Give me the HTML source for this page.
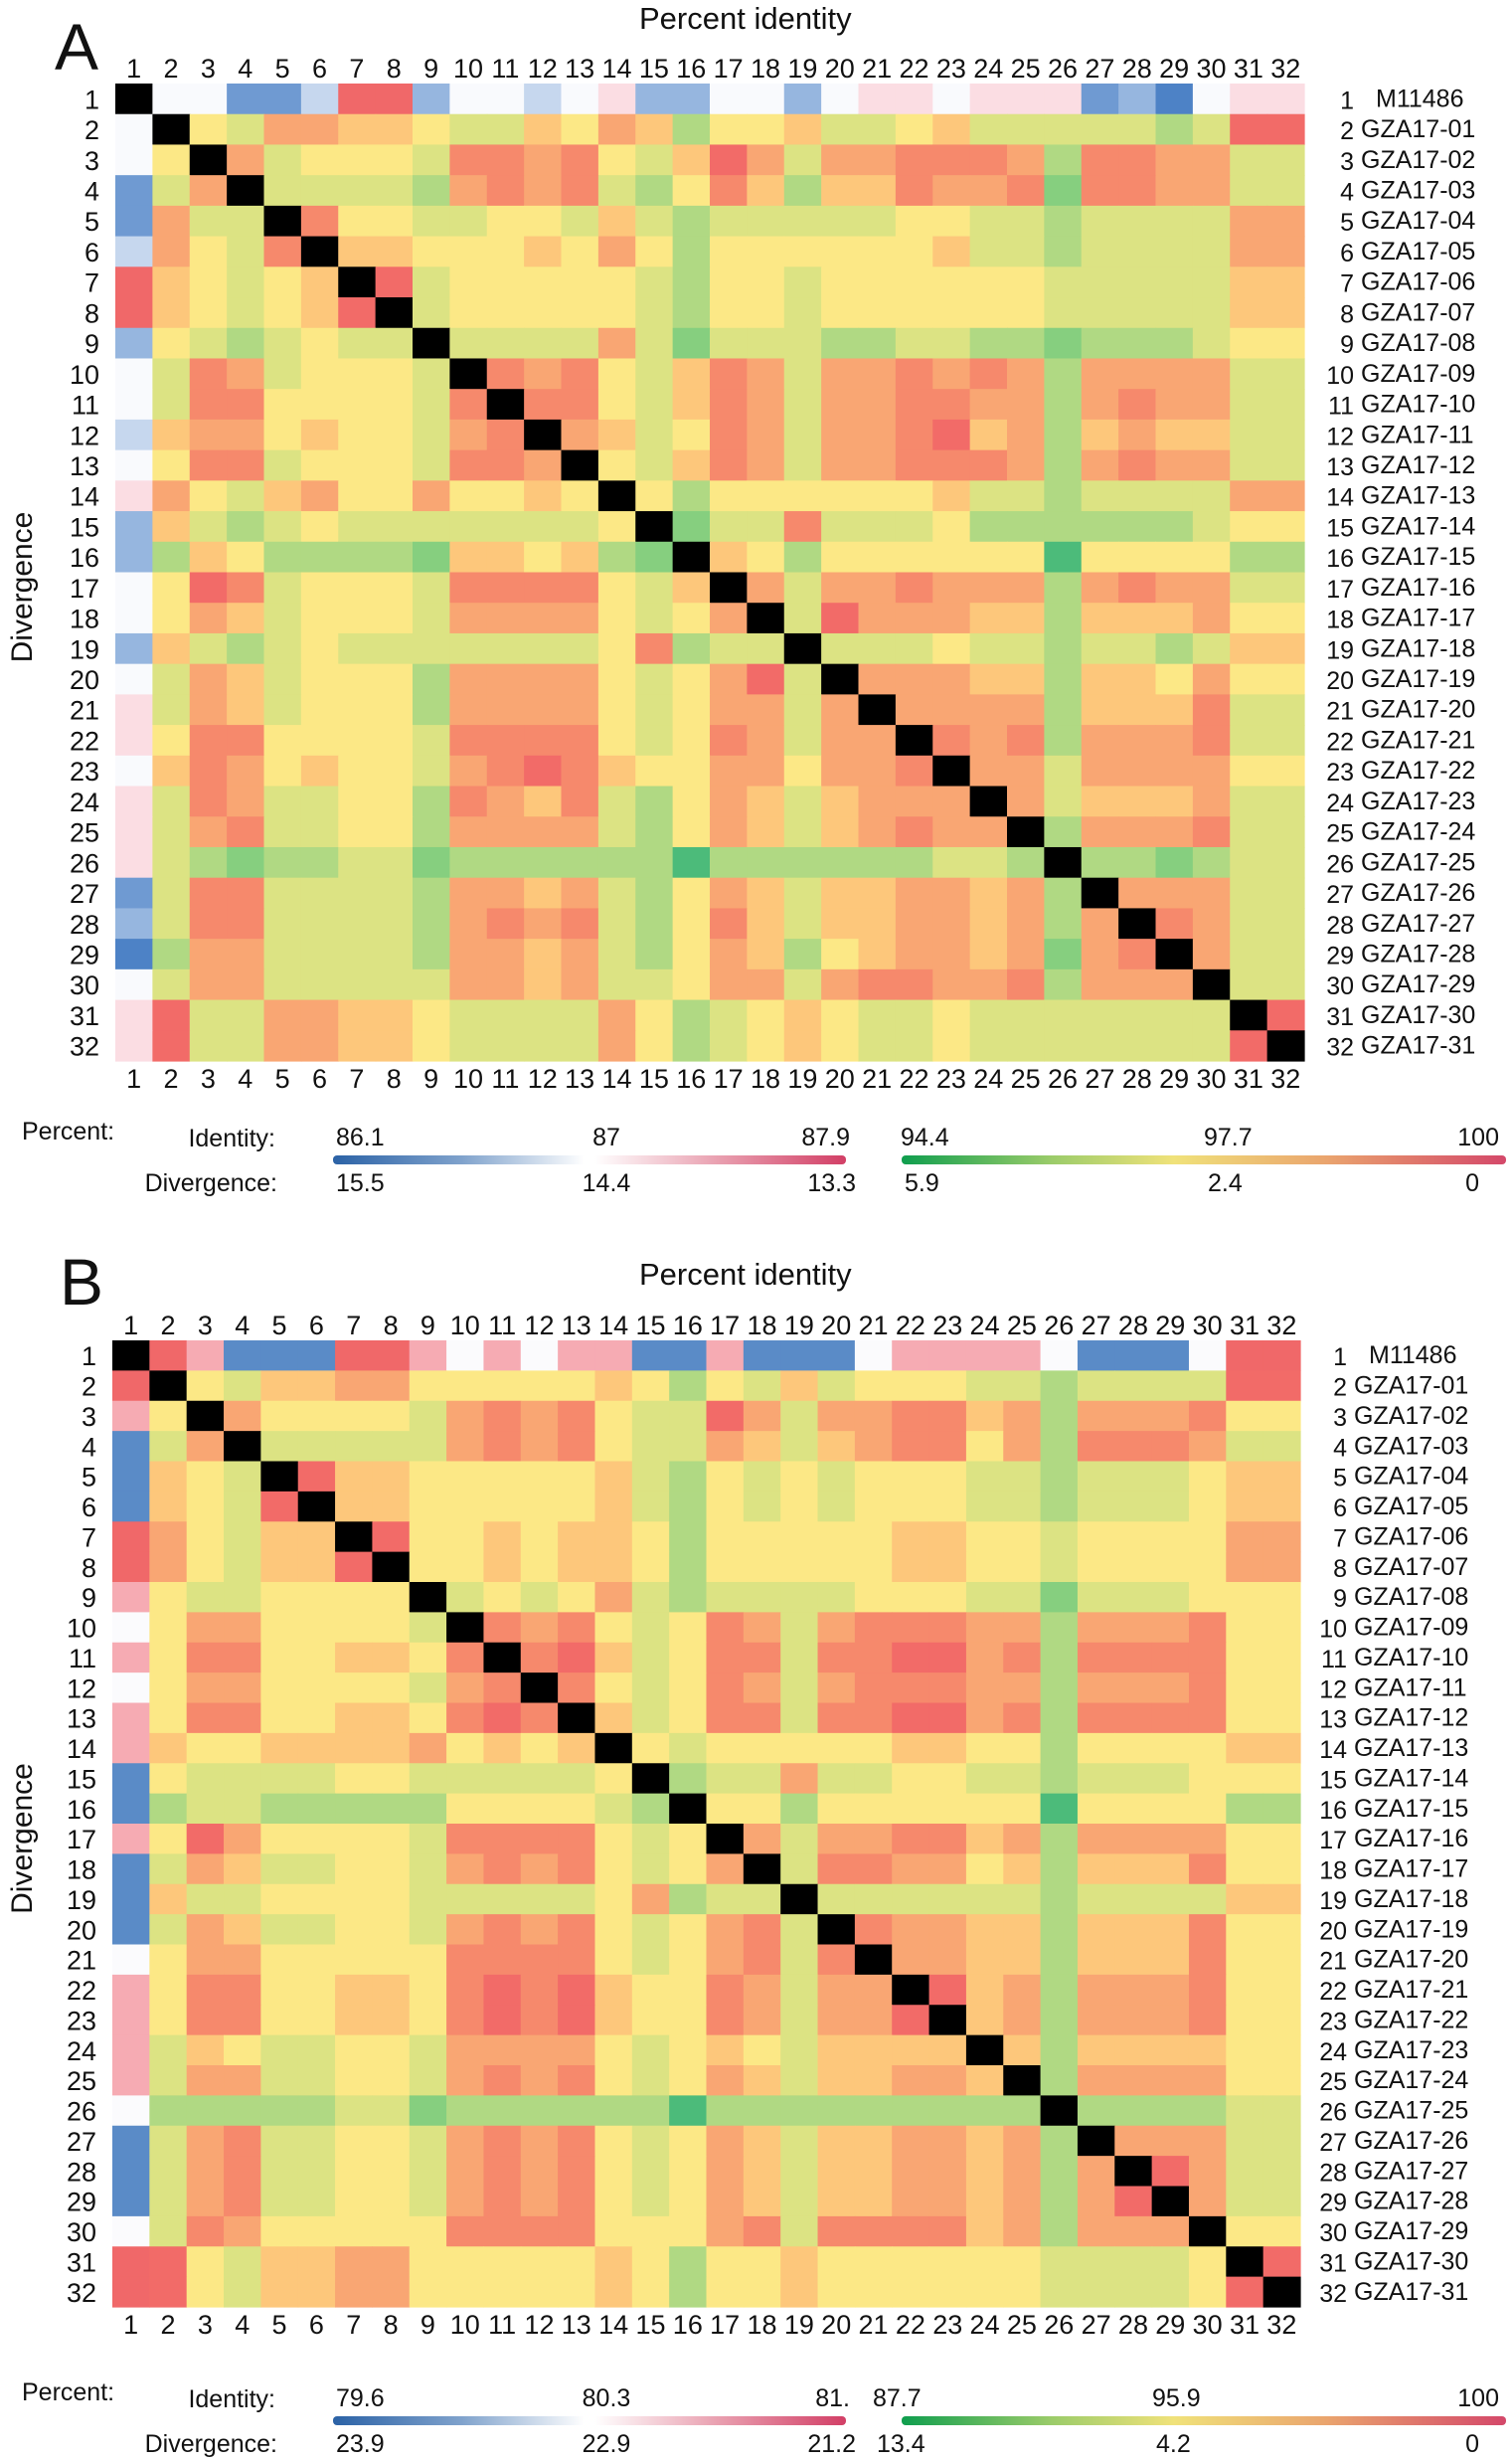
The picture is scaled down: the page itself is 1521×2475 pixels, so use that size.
<!DOCTYPE html>
<html><head><meta charset="utf-8">
<style>
html,body{margin:0;padding:0;background:#fff;}
svg{display:block;}
text{font-family:"Liberation Sans Narrow","Liberation Sans",sans-serif;fill:#111;}
.nm{font-family:"Liberation Sans",sans-serif;}
</style></head>
<body>
<svg id="fig" width="1521" height="2475" viewBox="0 0 1521 2475" xmlns="http://www.w3.org/2000/svg">
<defs>
<linearGradient id="gBlueRed" x1="0" x2="1" y1="0" y2="0">
<stop offset="0" stop-color="#2b62a6"/><stop offset="0.25" stop-color="#7fa2cc"/><stop offset="0.49" stop-color="#ffffff"/><stop offset="0.51" stop-color="#ffffff"/><stop offset="0.75" stop-color="#e9a0b0"/><stop offset="1" stop-color="#d23f66"/>
</linearGradient>
<linearGradient id="gGreenRed" x1="0" x2="1" y1="0" y2="0">
<stop offset="0" stop-color="#0f9e4e"/><stop offset="0.25" stop-color="#9ccc6a"/><stop offset="0.45" stop-color="#f0e27a"/><stop offset="0.7" stop-color="#eaa56e"/><stop offset="1" stop-color="#d4486a"/>
</linearGradient>
</defs>
<g id="layer"></g>
</svg>
<script>
// ---- data ----
const names = ["M11486","GZA17-01","GZA17-02","GZA17-03","GZA17-04","GZA17-05","GZA17-06","GZA17-07","GZA17-08","GZA17-09","GZA17-10","GZA17-11","GZA17-12","GZA17-13","GZA17-14","GZA17-15","GZA17-16","GZA17-17","GZA17-18","GZA17-19","GZA17-20","GZA17-21","GZA17-22","GZA17-23","GZA17-24","GZA17-25","GZA17-26","GZA17-27","GZA17-28","GZA17-29","GZA17-30","GZA17-31"];
// outgroup (M11486 vs 2..32) identity classes
const outA = "wwBBlRRbwwlwpbbwwbwppwpppBbDwpp";
const outB = "RPBBBRRPwPwPPBBPBBBwPPPPwBBBwRR";
// in-group identity levels (0 = lowest/green .. 8 = highest/red), upper triangle rows 2..31
const upperA = ["436655433546524453345333332388","63444377674358636677762776633","3333267673247525576671776633","744334435323333344332333366","55444546424444445332333366","8344444324434444443333355","344444324434444443333355","33336313332233221222344","7674357636676762666633","774357636677662676633","65347636678562565533","4357636677762676633","424444445332333366","13373334222222344","5424444440444422","636676662676633","38666552555644","3334332332355","666552554644","66662555733","7672666733","663666644","63555633","2666733","221233","66633","7633","633","33","8"];
const upperB = ["435566444445424353444332333388","64444367674338636677562666744","3333367674336535677462777633","855444445324343444332333455","55444445324343444332333455","8445455424444455443444466","445455424444455443444466","34346323333444331333444","7674347636777662666744","785347737788672777744","74347636777662666744","5347737788672777744","434444455442444455","23363344332333444","4424444440444422","636677562666644","37766452555744","3333332333355","766552555744","66552555744","8562666744","562666744","52555544","2666644","222233","66633","8633","633","44","8"];
const legendA = {idLow:["86.1","87","87.9"], divLow:["15.5","14.4","13.3"], idHigh:["94.4","97.7","100"], divHigh:["5.9","2.4","0"]};
const legendB = {idLow:["79.6","80.3","81."], divLow:["23.9","22.9","21.2"], idHigh:["87.7","95.9","100"], divHigh:["13.4","4.2","0"]};

// ---- styles ----
const levelColors = ["#4cbb7a","#86cf7f","#b0d983","#dce383","#fce886","#fdc77b","#f9a673","#f6896c","#f26b68"];
const outColorsA = {D:"#4d82c6",B:"#6f9ad2",b:"#96b6df",l:"#c6d7ee",w:"#f9fafd",p:"#fbdde3",R:"#f06869"};
const outColorsB = {B:"#5a8bc7",w:"#fbfbfd",P:"#f6abb3",R:"#f06869"};

const NS = "http://www.w3.org/2000/svg";
const layer = document.getElementById("layer");
function mk(tag, attrs, parent, txt){
  const e = document.createElementNS(NS, tag);
  for (const k in attrs) e.setAttribute(k, attrs[k]);
  if (txt !== undefined) e.textContent = txt;
  (parent||layer).appendChild(e);
  return e;
}

function cellColor(out, upper, oc, i, j){
  if (i === j) return "#000";
  if (i === 0) return oc[out[j-1]];
  if (j === 0) return oc[out[i-1]];
  const a = Math.min(i,j), b = Math.max(i,j);
  const ch = upper[a-1][b-a-1];
  return levelColors[+ch];
}

function panel(cfg){
  const g = mk("g", {});
  
  
  const n = 32;
  const cw = (cfg.x1 - cfg.x0)/n, ch = (cfg.y1 - cfg.y0)/n;
  const xs = k => cfg.x0 + k*cw;
  const ys = k => cfg.y0 + k*ch;
  const hm = mk("g", {}, g);
  
  
  for (let i=0;i<n;i++) for (let j=0;j<n;j++){
    const r = mk("rect", {x:xs(j).toFixed(2), y:ys(i).toFixed(2), width:(cw+0.6).toFixed(2), height:(ch+0.6).toFixed(2), fill:cellColor(cfg.out,cfg.upper,cfg.oc,i,j)}, hm);
    
    
  }
  const L = mk("text", {x:cfg.letterX, y:cfg.letterY, "font-size":66, class:"nm"}, g, cfg.letter);
  
  
  const T = mk("text", {x:cfg.titleX, y:cfg.titleY, "font-size":31, class:"nm"}, g, "Percent identity");
  
  
  const cy = (cfg.y0+cfg.y1)/2 + 15;
  const Y = mk("text", {x:0, y:0, "font-size":30, class:"nm", "text-anchor":"middle", transform:`translate(${32},${cy}) rotate(-90)`}, g, "Divergence");
  
  
  for (let k=0;k<n;k++){
    const cx = xs(k)+cw/2;
    const t1 = mk("text", {x:cx, y:cfg.y0-6, "font-size":27, "text-anchor":"middle"}, g, String(k+1));
    
    
    const t2 = mk("text", {x:cx, y:cfg.y1+27, "font-size":27, "text-anchor":"middle"}, g, String(k+1));
    
    
    const ry = ys(k)+ch/2+10;
    const t3 = mk("text", {x:cfg.x0-16, y:ry, "font-size":27, "text-anchor":"end"}, g, String(k+1));
    
    
    const t4 = mk("text", {x:cfg.numX, y:ry, "font-size":25, "text-anchor":"end", class:"nm"}, g, String(k+1));
    
    
    const t5 = mk("text", {x:cfg.numX+ (k===0?22:7), y:ry-2, "font-size":25, class:"nm"}, g, names[k]);
    
    
  }
  const lg = mk("g", {}, g);
  
  
  const ly = cfg.legY;
  const P = mk("text", {x:22, y:ly-14, "font-size":25}, lg, "Percent:");
  
  
  const I = mk("text", {x:277, y:ly-7, "font-size":25, "text-anchor":"end"}, lg, "Identity:");
  
  
  const D = mk("text", {x:279, y:ly+38, "font-size":25, "text-anchor":"end"}, lg, "Divergence:");
  
  
  const b1 = mk("rect", {x:335, y:ly+2, width:516, height:9, rx:4, fill:"url(#gBlueRed)"}, lg);
  
  
  const b2 = mk("rect", {x:907, y:ly+2, width:608, height:9, rx:4, fill:"url(#gGreenRed)"}, lg);
  
  
  const posLow = [[338,"start"],[610,"middle"],[855,"end"]];
  const posHigh = [[cfg.hiX0,"start"],[cfg.hiX1,"start"],[1508,"end"]];
  const lz = cfg.legend;
  for (let k=0;k<3;k++){
    let t = mk("text", {x:posLow[k][0], y:ly-8, "font-size":25, "text-anchor":posLow[k][1]}, lg, lz.idLow[k]);
    
    
    t = mk("text", {x:posLow[k][0]+(k===2?6:0), y:ly+38, "font-size":25, "text-anchor":posLow[k][1]}, lg, lz.divLow[k]);
    
    
    t = mk("text", {x:posHigh[k][0], y:ly-8, "font-size":25, "text-anchor":posHigh[k][1]}, lg, lz.idHigh[k]);
    
    
    t = mk("text", {x:posHigh[k][0]+(k===0?4:(k===1?4:-20)), y:ly+38, "font-size":25, "text-anchor":posHigh[k][1]}, lg, lz.divHigh[k]);
    
    
  }
}

panel({id:"panel-a", letter:"A", letterX:55, letterY:70, titleX:643, titleY:29,
  x0:116, x1:1312, y0:84, y1:1067, out:outA, upper:upperA, oc:outColorsA,
  numX:1362, legY:1160, legend:legendA, hiX0:906, hiX1:1211});
panel({id:"panel-b", letter:"B", letterX:60, letterY:1312, titleX:643, titleY:1292,
  x0:113, x1:1308, y0:1348, y1:2320, out:outB, upper:upperB, oc:outColorsB,
  numX:1355, legY:2428, legend:legendB, hiX0:878, hiX1:1159});
</script>
</body></html>
